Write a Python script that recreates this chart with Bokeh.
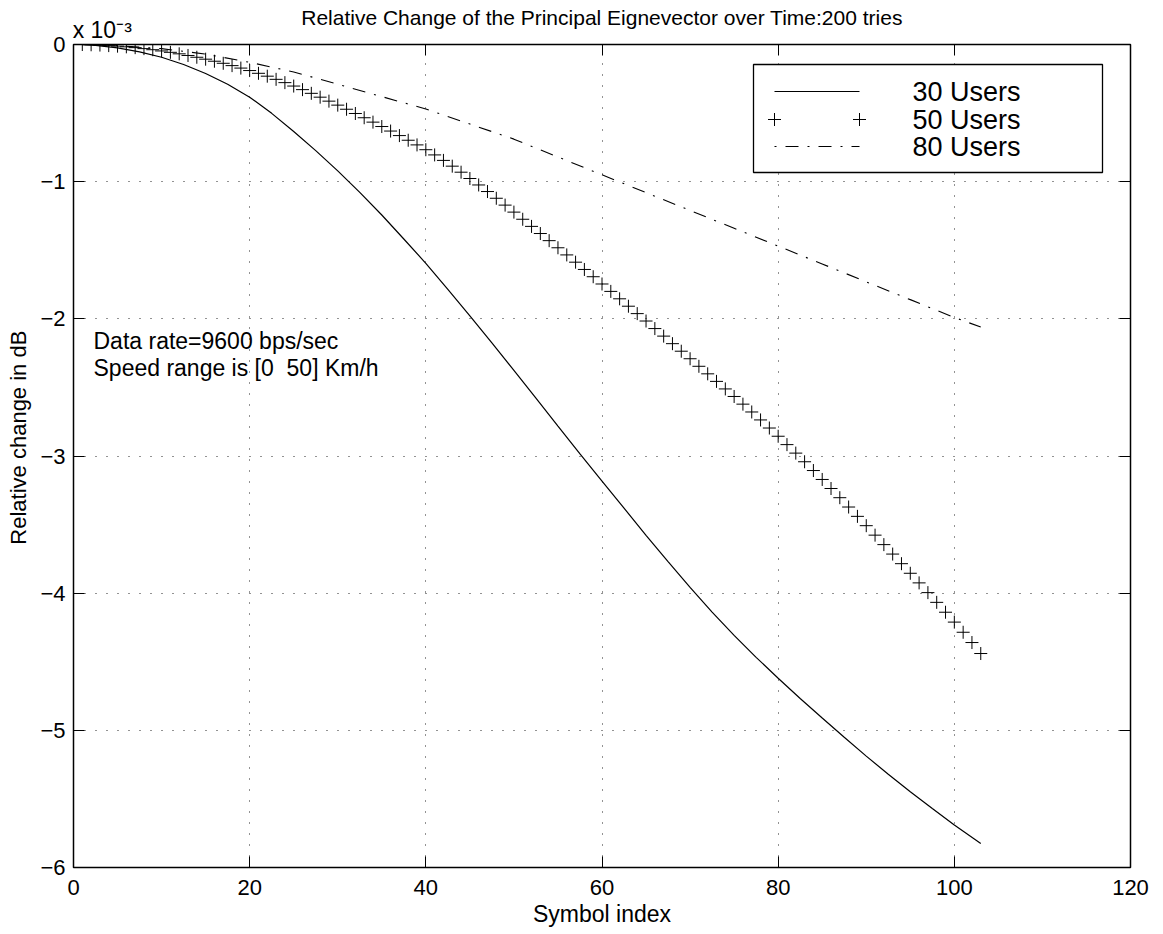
import math
from bokeh.plotting import figure
from bokeh.models import Range1d, FixedTicker, LinearAxis, Label
from bokeh.embed import file_html
from bokeh.resources import INLINE

# ---------------------------------------------------------------
# Data: relative change of the principal eigenvector (dB, x 1e-3)
# ---------------------------------------------------------------
idx_30 = [1, 2.5, 5, 7.5, 10, 12.5, 15, 17.5, 20, 22.5, 25, 27.5, 30, 32.5, 35, 37.5, 40,
          42.5, 45, 47.5, 50, 52.5, 55, 57.5, 60, 62.5, 65, 67.5, 70, 72.5, 75, 77.5, 80,
          82.5, 85, 87.5, 90, 92.5, 95, 97.5, 100, 103]
chg_30 = [-0.001, -0.006, -0.024, -0.054, -0.093, -0.146, -0.211, -0.290, -0.384, -0.502,
          -0.634, -0.774, -0.921, -1.078, -1.243, -1.418, -1.595, -1.785, -1.978, -2.176,
          -2.376, -2.578, -2.782, -2.985, -3.183, -3.380, -3.578, -3.770, -3.958, -4.138,
          -4.308, -4.468, -4.620, -4.768, -4.910, -5.050, -5.188, -5.320, -5.448, -5.570,
          -5.690, -5.825]

idx_50 = list(range(1, 104))
chg_50 = [
    -0.000, -0.002, -0.004, -0.008, -0.012, -0.017, -0.023, -0.030, -0.038, -0.047,
    -0.057, -0.068, -0.080, -0.093, -0.107, -0.122, -0.137, -0.154, -0.172, -0.190,
    -0.210, -0.231, -0.254, -0.278, -0.303, -0.329, -0.356, -0.384, -0.413, -0.442,
    -0.472, -0.503, -0.534, -0.566, -0.598, -0.631, -0.664, -0.698, -0.732, -0.767,
    -0.805, -0.845, -0.887, -0.931, -0.977, -1.024, -1.072, -1.121, -1.171, -1.222,
    -1.274, -1.326, -1.378, -1.430, -1.482, -1.534, -1.587, -1.640, -1.693, -1.746,
    -1.800, -1.854, -1.908, -1.962, -2.016, -2.071, -2.126, -2.181, -2.236, -2.291,
    -2.346, -2.401, -2.456, -2.511, -2.566, -2.622, -2.679, -2.737, -2.796, -2.856,
    -2.917, -2.979, -3.042, -3.106, -3.171, -3.237, -3.304, -3.372, -3.440, -3.508,
    -3.577, -3.646, -3.715, -3.785, -3.855, -3.925, -3.996, -4.067, -4.139, -4.211,
    -4.285, -4.360, -4.440,
]

idx_80 = [1, 5, 10, 15, 20, 25, 30, 35, 40, 45, 50, 55, 60, 65, 70, 75, 80, 85, 90, 95, 100, 103]
chg_80 = [-0.000, -0.008, -0.03, -0.07, -0.13, -0.20, -0.29, -0.38, -0.47, -0.58, -0.69,
          -0.82, -0.95, -1.08, -1.21, -1.34, -1.47, -1.60, -1.73, -1.86, -1.99, -2.06]

series_labels = ["30 Users", "50 Users", "80 Users"]
x_ticks = [0, 20, 40, 60, 80, 100, 120]
y_ticks = [-6, -5, -4, -3, -2, -1, 0]

title_text = "Relative Change of the Principal Eignevector over Time:200 tries"
x_label = "Symbol index"
y_label = "Relative change in dB"
exponent_text = "x 10\u207b\u00b3"
notes = ["Data rate=9600 bps/sec", "Speed range is [0 \u00a050] Km/h"]

# ---------------------------------------------------------------
# Figure geometry
# ---------------------------------------------------------------
W, H = 1163, 934
LEFT, RIGHT, TOP, BOTTOM = 73, 33, 44, 67
FW, FH = W - LEFT - RIGHT, H - TOP - BOTTOM
X0, X1, Y0, Y1 = 0, 120, -6, 0
FONT = "Liberation Sans"
NBSP = "\u00a0"


def px_x(px):
    """Canvas pixel column -> data x."""
    return X0 + (px - LEFT) * (X1 - X0) / FW


def px_y(py):
    """Canvas pixel row -> data y."""
    return Y1 - (py - TOP) * (Y1 - Y0) / FH


p = figure(width=W, height=H, output_backend="svg", toolbar_location=None,
           x_range=Range1d(X0, X1), y_range=Range1d(Y0, Y1),
           min_border_left=LEFT, min_border_right=RIGHT,
           min_border_top=TOP, min_border_bottom=BOTTOM,
           background_fill_color="white", border_fill_color="white")
p.title.visible = False

p.outline_line_color = "black"
p.outline_line_width = 1.5


def style_axis(ax):
    ax.axis_line_color = None
    ax.major_tick_in = 11
    ax.major_tick_out = 0
    ax.major_tick_line_color = "black"
    ax.major_tick_line_width = 1
    ax.minor_tick_line_color = None
    ax.major_label_text_font = FONT
    ax.major_label_text_color = "black"
    ax.major_label_text_font_size = "22px"
    ax.axis_label_text_font = FONT
    ax.axis_label_text_font_style = "normal"
    ax.axis_label_text_color = "black"


def fmt(v):
    return ("\u2212%d" % -v) if v < 0 else "%d" % v


xb = p.xaxis[0]
xb.ticker = FixedTicker(ticks=x_ticks)
xb.major_label_overrides = {t: fmt(t) for t in x_ticks}
xb.major_label_standoff = 12
style_axis(xb)
xb.axis_label = x_label
xb.axis_label_text_font_size = "23px"
xb.axis_label_standoff = 3

yl = p.yaxis[0]
yl.ticker = FixedTicker(ticks=y_ticks)
yl.major_label_overrides = {t: fmt(t) for t in y_ticks}
yl.major_label_standoff = 8
style_axis(yl)
# leading blanks lift the centred label slightly above the frame middle
yl.axis_label = NBSP * 6 + y_label
yl.axis_label_text_font_size = "22px"
yl.axis_label_standoff = 6

# top axis: inner ticks, the x 10^-3 multiplier starting at the left edge, and the title
xt = LinearAxis(ticker=FixedTicker(ticks=x_ticks))
style_axis(xt)
xt.major_label_overrides = {t: ((NBSP * 9 + exponent_text) if t == 0 else "") for t in x_ticks}
xt.major_label_text_font_size = "23px"
xt.major_label_standoff = 2
xt.axis_label = title_text
xt.axis_label_text_font_size = "21px"
xt.axis_label_standoff = -15
p.add_layout(xt, "above")

yr = LinearAxis(ticker=FixedTicker(ticks=y_ticks))
style_axis(yr)
yr.major_label_overrides = {t: "" for t in y_ticks}
yr.major_label_standoff = 0
p.add_layout(yr, "right")

# dotted grid
for g, ticks in ((p.xgrid[0], x_ticks), (p.ygrid[0], y_ticks)):
    g.ticker = FixedTicker(ticks=ticks)
    g.grid_line_color = "black"
    g.grid_line_alpha = 0.85
    g.grid_line_width = 1
    g.grid_line_dash = "1 10"

# ---------------------------------------------------------------
# Series
# ---------------------------------------------------------------
p.line(idx_30, chg_30, line_color="black", line_width=1.2)
p.scatter(idx_50, chg_50, marker="cross", size=13, line_color="black", line_width=1)
DASHDOT = "2 9 13 9"
p.line(idx_80, chg_80, line_color="black", line_width=1.1, line_dash=DASHDOT)

# ---------------------------------------------------------------
# Legend box (upper right)
# ---------------------------------------------------------------
lg_l, lg_r, lg_t, lg_b = px_x(753), px_x(1102), px_y(64), px_y(172)
p.quad(left=[lg_l], right=[lg_r], top=[lg_t], bottom=[lg_b],
       fill_color="white", line_color="black", line_width=1.3)
rows = [px_y(91), px_y(119), px_y(146)]
s0, s1 = px_x(774), px_x(859)
p.line([s0, s1], [rows[0], rows[0]], line_color="black", line_width=1.2)
p.scatter([s0, s1], [rows[1], rows[1]], marker="cross", size=13, line_color="black", line_width=1)
p.line([s0, s1], [rows[2], rows[2]], line_color="black", line_width=1.1, line_dash=DASHDOT)
for lab, ry in zip(series_labels, rows):
    p.add_layout(Label(x=px_x(912), y=ry, text=lab, text_font=FONT, text_font_size="27px",
                       text_align="left", text_baseline="middle", text_color="black"))

# run conditions
for txt, py in zip(notes, (340, 367)):
    p.add_layout(Label(x=px_x(93), y=px_y(py), text=txt, text_font=FONT,
                       text_font_size="23px", text_align="left", text_baseline="middle",
                       text_color="black"))

open("out.html", "w").write(file_html(p, INLINE))
